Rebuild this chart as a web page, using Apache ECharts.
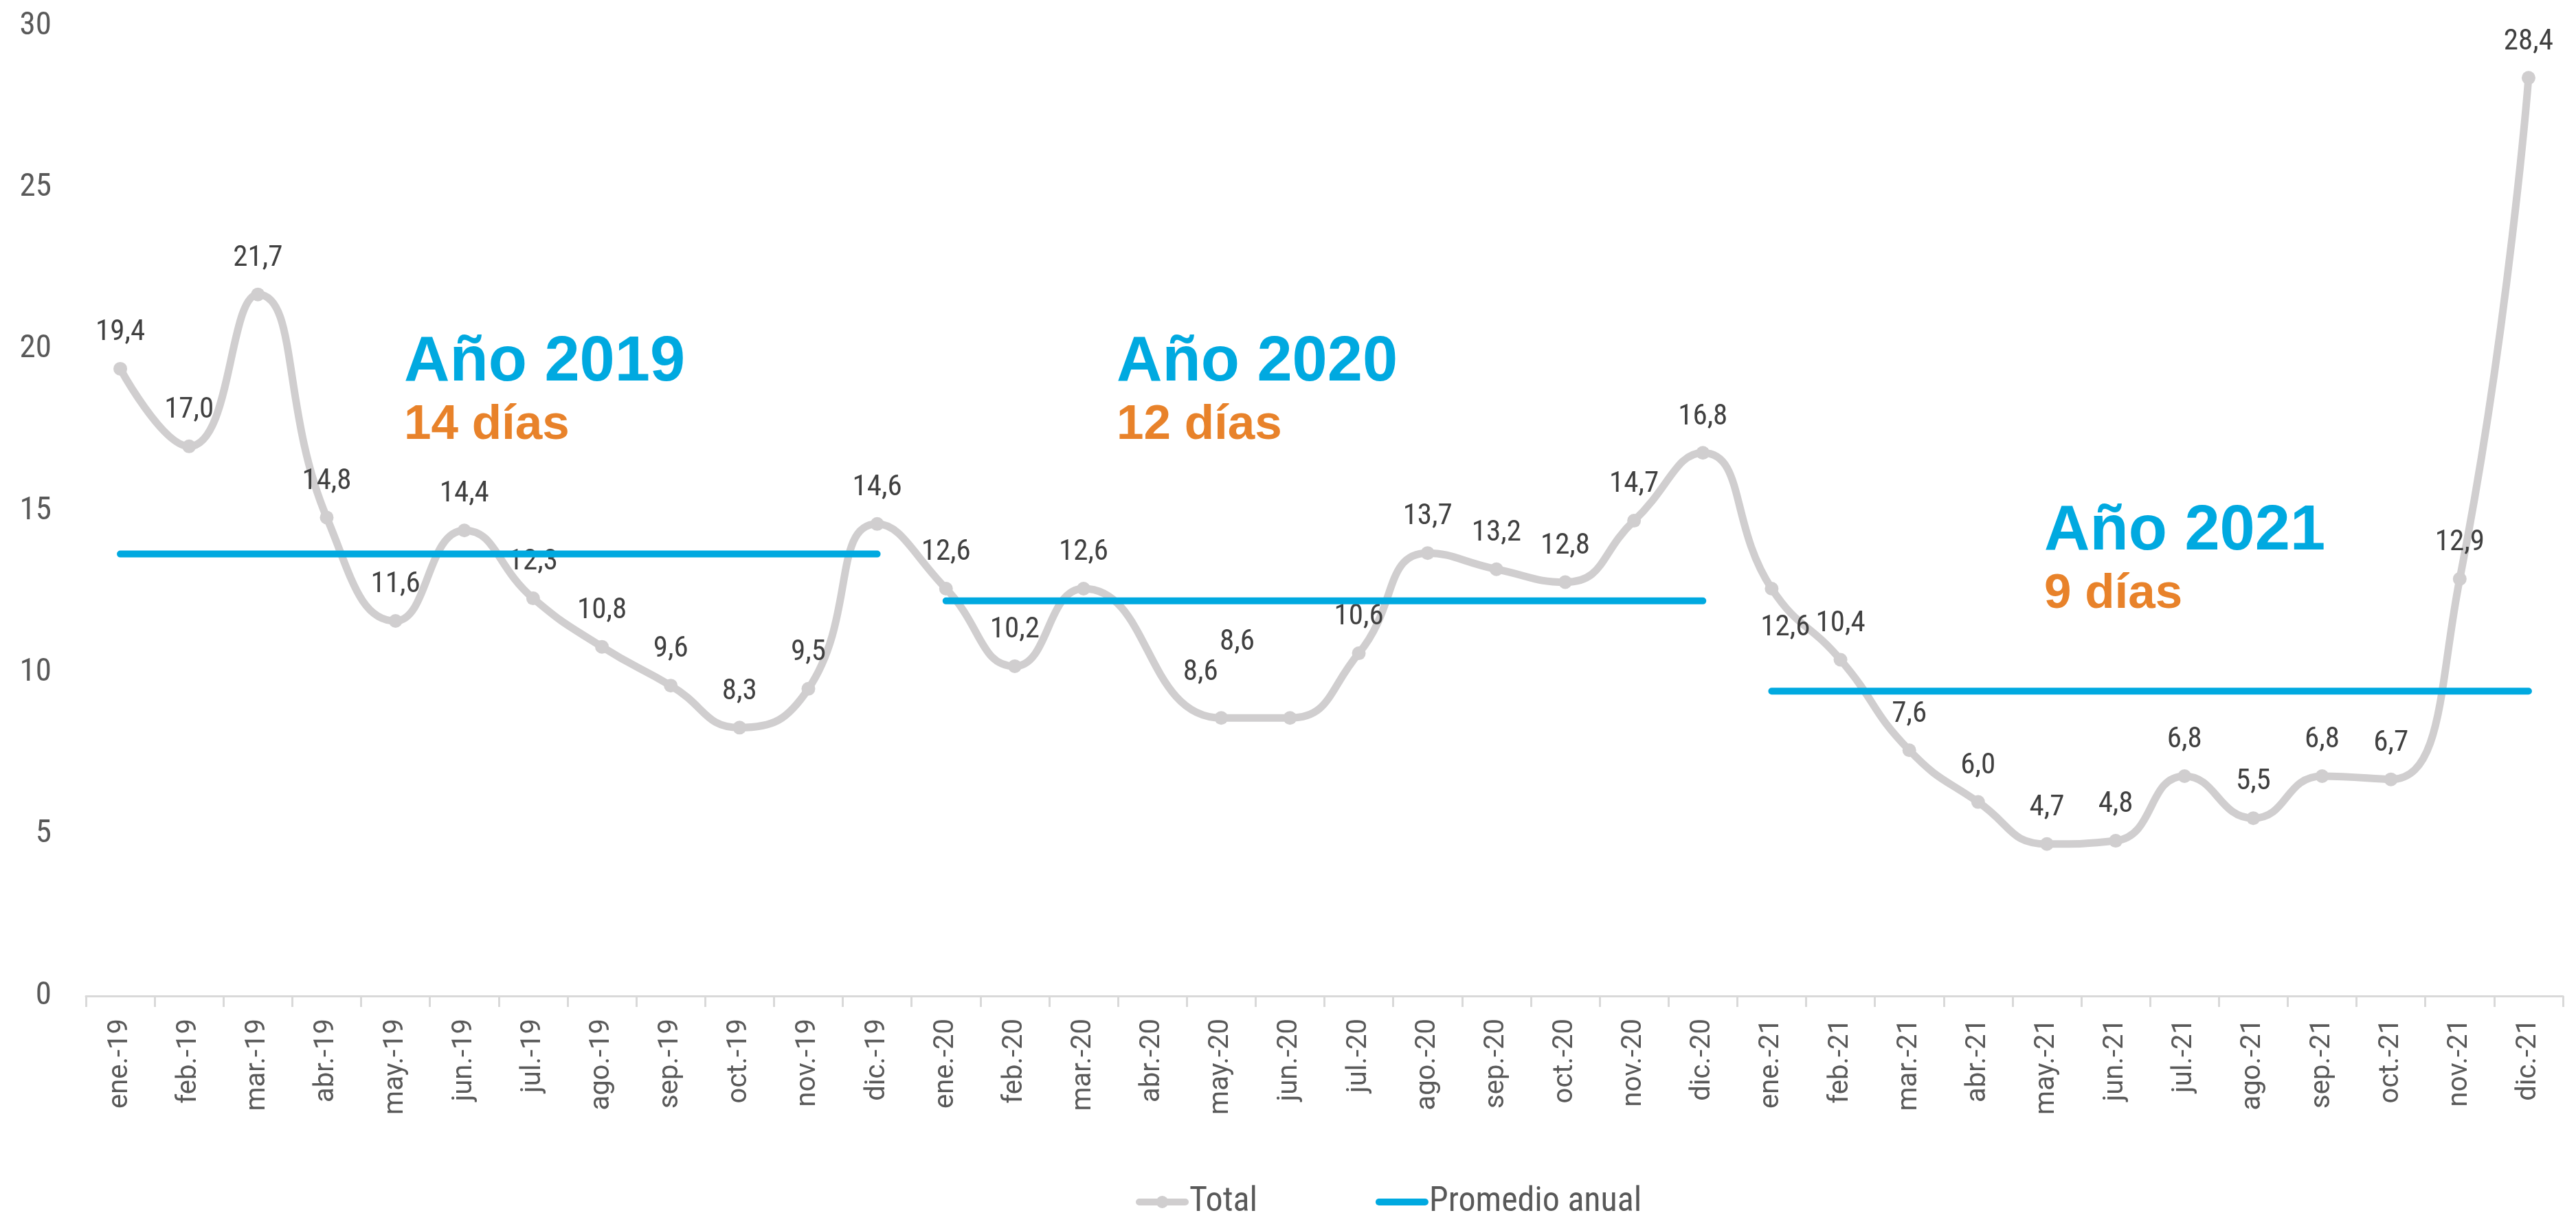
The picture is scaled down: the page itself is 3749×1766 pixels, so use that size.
<!DOCTYPE html>
<html>
<head>
<meta charset="utf-8">
<script src="https://cdn.jsdelivr.net/npm/echarts@6/dist/echarts.min.js"></script>
<style>
html,body{margin:0;padding:0;background:#fff;}
#chart{width:3749px;height:1766px;}
</style>
</head>
<body>
<div id="chart"></div>
<script>
var categories = ["ene.-19","feb.-19","mar.-19","abr.-19","may.-19","jun.-19","jul.-19","ago.-19","sep.-19","oct.-19","nov.-19","dic.-19",
  "ene.-20","feb.-20","mar.-20","abr.-20","may.-20","jun.-20","jul.-20","ago.-20","sep.-20","oct.-20","nov.-20","dic.-20",
  "ene.-21","feb.-21","mar.-21","abr.-21","may.-21","jun.-21","jul.-21","ago.-21","sep.-21","oct.-21","nov.-21","dic.-21"];
var totalValues = [19.4,17.0,21.7,14.8,11.6,14.4,12.3,10.8,9.6,8.3,9.5,14.6,
  12.6,10.2,12.6,null,8.6,8.6,10.6,13.7,13.2,12.8,14.7,16.8,
  12.6,10.4,7.6,6.0,4.7,4.8,6.8,5.5,6.8,6.7,12.9,28.4];
var avg2019 = 13.67;
var avg2020 = 12.22;
var avg2021 = 9.43;
var yTicks = [0,5,10,15,20,25,30];
var annotations = [
  {year:"Año 2019", days:"14 días"},
  {year:"Año 2020", days:"12 días"},
  {year:"Año 2021", days:"9 días"}
];

var NARROW = "'Liberation Sans Narrow','Arial Narrow','Roboto Condensed','DejaVu Sans Condensed',Roboto,sans-serif";
var BLUE = "#00A9E0", ORANGE = "#E8822A", GRAY = "#D0CECF";

function yearSeg(startIdx, value){
  return categories.map(function(c,i){ return (i>=startIdx && i<startIdx+12) ? value : null; });
}

// special label shifts (index -> [dx, dy])
var labelShifts = {16:[-30,-13], 17:[-77,-57], 24:[20,110]};

var chart = echarts.init(document.getElementById('chart'), null, {renderer:'canvas'});

var avgSeries = [[0,avg2019],[12,avg2020],[24,avg2021]].map(function(p){
  return {
    name:'Promedio anual', type:'line', data: yearSeg(p[0], p[1]),
    symbol:'none', showSymbol:false, connectNulls:false, z:3,
    lineStyle:{color:BLUE, width:10, cap:'round'},
    itemStyle:{color:BLUE},
    emphasis:{disabled:true}, silent:true, animation:false
  };
});

var totalIcon = 'path://M5,5 L72,5 A5,5 0 0 1 72,15 L5,15 A5,5 0 0 1 5,5 Z M29.5,10 A9,9 0 1 1 47.5,10 A9,9 0 1 1 29.5,10 Z';
var avgIcon = 'path://M5,5 L72,5 A5,5 0 0 1 72,15 L5,15 A5,5 0 0 1 5,5 Z';

var option = {
  animation:false,
  backgroundColor:'#ffffff',
  grid:{left:125, right:19, top:38, bottom:316, containLabel:false},
  legend:{
    left:1648, top:1720, itemWidth:77, itemHeight:20, itemGap:172,
    textStyle:{fontFamily:NARROW, fontSize:50, color:'#595959', padding:[0,0,0,-4]},
    data:[
      {name:'Total', icon:totalIcon, itemStyle:{color:GRAY}},
      {name:'Promedio anual', icon:avgIcon, itemStyle:{color:BLUE}}
    ]
  },
  xAxis:{
    type:'category', data:categories, boundaryGap:true,
    axisLine:{show:true, lineStyle:{color:'#D9D9D9', width:3}},
    axisTick:{show:true, interval:0, length:16, lineStyle:{color:'#D9D9D9', width:3}},
    axisLabel:{interval:0, rotate:90, margin:33, fontSize:40, color:'#595959', fontFamily:"Roboto,'Open Sans',sans-serif"},
    splitLine:{show:false}
  },
  yAxis:{
    type:'value', min:yTicks[0], max:yTicks[yTicks.length-1], interval:5,
    axisLine:{show:false}, axisTick:{show:false}, splitLine:{show:false},
    axisLabel:{fontSize:47, color:'#595959', margin:50, fontFamily:NARROW}
  },
  series:[{
    name:'Total', type:'line', data: totalValues, smooth:0.5, connectNulls:true,
    symbol:'circle', symbolSize:20, showAllSymbol:true, z:2,
    lineStyle:{color:GRAY, width:11},
    itemStyle:{color:GRAY},
    label:{show:true, position:'top', distance:21, fontSize:43, lineHeight:43,
      color:'#404040', fontFamily:NARROW,
      formatter:function(p){ return p.value==null ? '' : p.value.toFixed(1).replace('.',','); }},
    labelLayout:function(params){
      var s = labelShifts[params.dataIndex];
      return s ? {dx:s[0], dy:s[1], hideOverlap:false} : {hideOverlap:false};
    },
    emphasis:{disabled:true}, silent:true
  }].concat(avgSeries)
};
chart.setOption(option);

var tops = [483, 483, 729];
var lefts = [588, 1625, 2975];
var gfx = [];
annotations.forEach(function(a, k){
  gfx.push({type:'text', left:lefts[k], top:tops[k], z:10,
    style:{text:a.year, fill:BLUE, font:"bold 92px 'Liberation Sans', Arial, sans-serif"}});
  gfx.push({type:'text', left:lefts[k], top:tops[k]+101, z:10,
    style:{text:a.days, fill:ORANGE, font:"bold 71px 'Liberation Sans', Arial, sans-serif"}});
});
chart.setOption({graphic:gfx});
</script>
</body>
</html>
